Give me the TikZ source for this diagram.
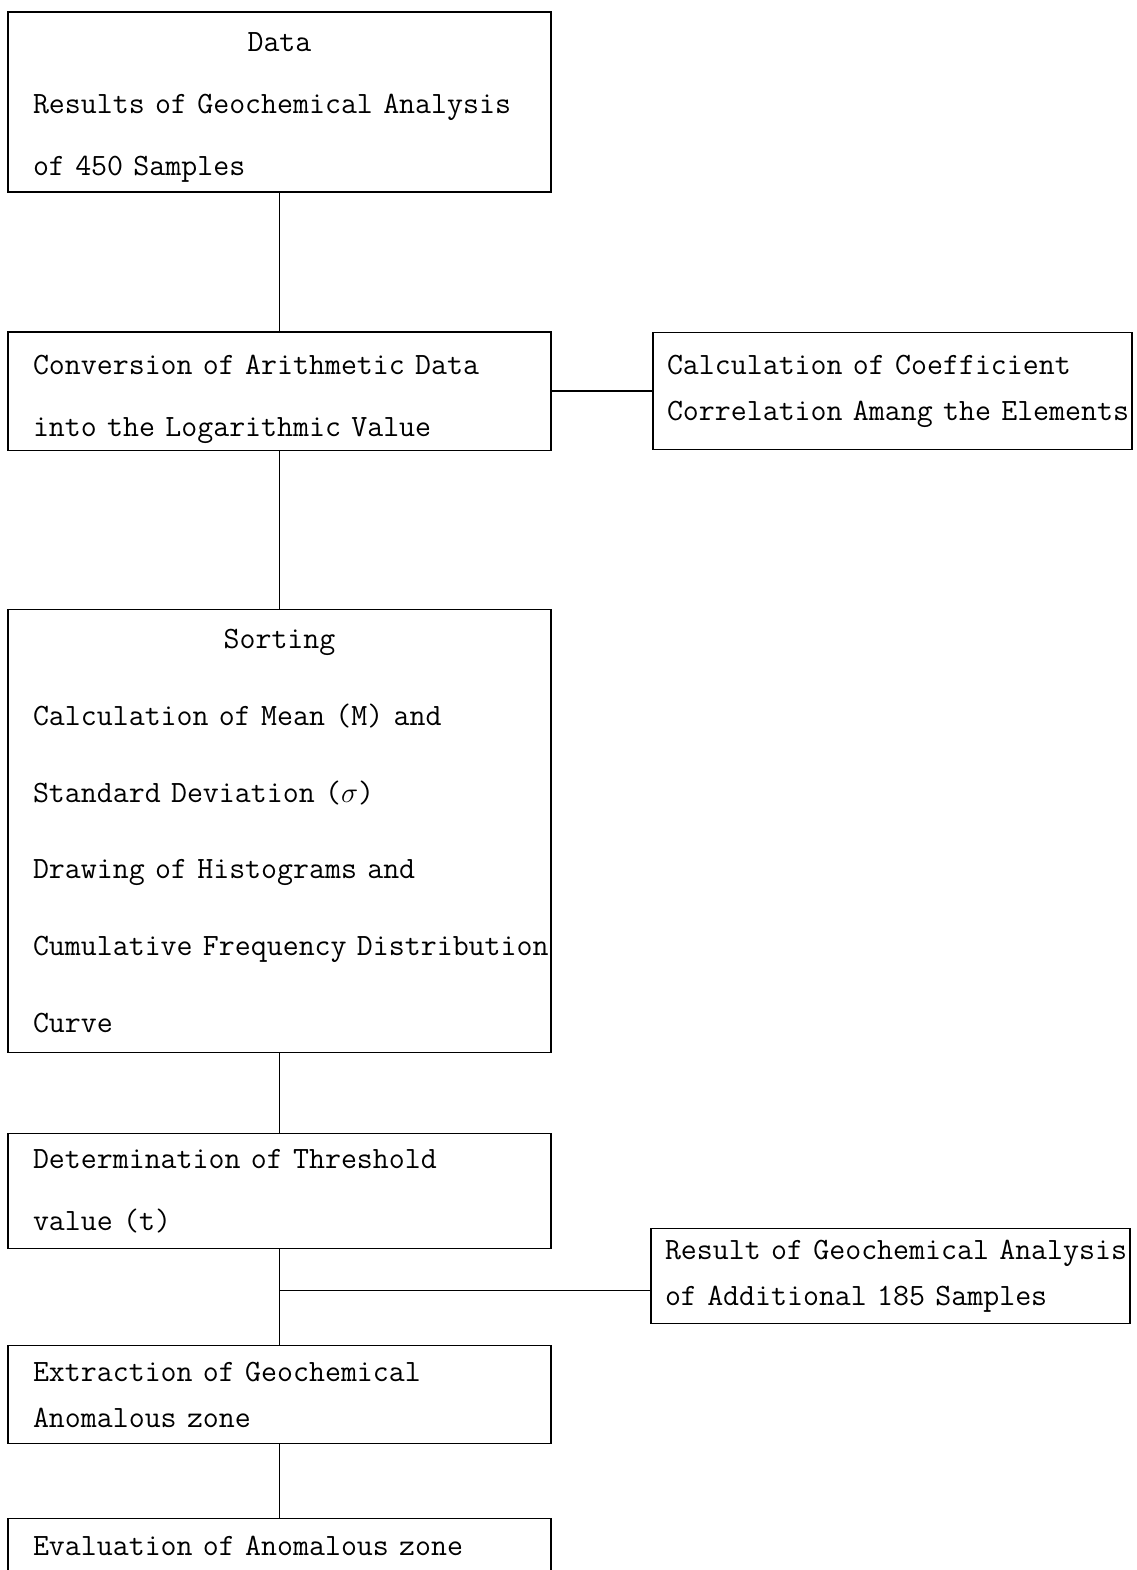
\documentclass[tikz,border=0pt]{standalone}
\usepackage{fontspec}
\usetikzlibrary{positioning}

\newcommand{\midline}[1]{\makebox[\linewidth]{#1}}

\begin{document}
\begin{tikzpicture}[
  line width=0.75pt,
  box/.style={rectangle, draw, outer sep=0pt, minimum width=271.5pt, text width=246.5pt, inner xsep=12.5pt, align=left, font=\ttfamily\fontsize{15.5pt}{31pt}\selectfont},
  sidebox/.style={box, minimum width=239.5pt, text width=225.5pt, inner xsep=7pt, font=\ttfamily\fontsize{15.5pt}{23pt}\selectfont},
]
  \useasboundingbox (0,0) rectangle (568pt,-785pt);

  \node[box, anchor=north west, minimum height=90pt, text height=15pt] (data) at (4pt,-6pt) {\midline{Data}\\ Results of Geochemical Analysis\\ of 450 Samples};
  \node[box, below=70pt of data, minimum height=57.5pt, text height=18pt] (conv) {Conversion of Arithmetic Data\\ into the Logarithmic Value};
  \node[sidebox, right=51pt of conv, minimum height=58.5pt] (calc) {Calculation of Coefficient\\ Correlation~Amang~the~Elements};
  \node[box, below=79.5pt of conv, minimum height=221.5pt, font=\ttfamily\fontsize{15.5pt}{38.4pt}\selectfont] (sort) {\midline{Sorting}\\ Calculation of Mean (M) and\\ Standard Deviation ($\sigma$)\\ Drawing of Histograms and\\ Cumulative~Frequency~Distribution\\ Curve};
  \node[box, below=40.5pt of sort, minimum height=57.5pt] (thr) {Determination of Threshold\\ value (t)};
  \coordinate[below=21pt of thr.south] (j);
  \node[sidebox, anchor=west, minimum height=47.5pt] (res) at ([xshift=185.75pt, yshift=7.25pt]j) {Result~of~Geochemical~Analysis\\ of Additional 185 Samples};
  \node[box, below=48.5pt of thr, minimum height=49pt, font=\ttfamily\fontsize{15.5pt}{23pt}\selectfont] (ext) {Extraction of Geochemical\\ Anomalous zone};
  \node[box, below=37.5pt of ext, anchor=north, text height=9.5pt, text depth=40pt, inner ysep=9pt] (eval) {Evaluation of Anomalous zone};

  \draw (data) -- (conv);
  \draw (calc.west) -- (calc.west -| conv.east);
  \draw (conv) -- (sort);
  \draw (sort) -- (thr);
  \draw (thr) -- (ext);
  \draw (j) -- (j -| res.west);
  \draw (ext) -- (eval);
\end{tikzpicture}
\end{document}
